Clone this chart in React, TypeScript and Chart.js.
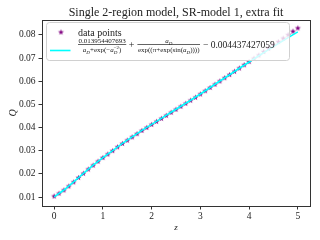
import React, { useEffect, useRef } from "react";
import { Chart, registerables } from "chart.js";

Chart.register(...registerables);

// ---------- data ----------
const zValues = [
  0.0, 0.1, 0.2, 0.3, 0.4, 0.5, 0.6, 0.7, 0.8, 0.9,
  1.0, 1.1, 1.2, 1.3, 1.4, 1.5, 1.6, 1.7, 1.8, 1.9,
  2.0, 2.1, 2.2, 2.3, 2.4, 2.5, 2.6, 2.7, 2.8, 2.9,
  3.0, 3.1, 3.2, 3.3, 3.4, 3.5, 3.6, 3.7, 3.8, 3.9,
  4.0, 4.1, 4.2, 4.3, 4.4, 4.5, 4.6, 4.7, 4.8, 4.9, 5.0,
];
const qValues = [
  0.0105, 0.0117, 0.0131, 0.0148, 0.0166, 0.0185, 0.0203, 0.0221, 0.0238, 0.0255,
  0.0271, 0.0286, 0.0301, 0.0317, 0.0332, 0.0346, 0.036, 0.0374, 0.0388, 0.0401,
  0.0414, 0.0427, 0.044, 0.0453, 0.0466, 0.0479, 0.0492, 0.0505, 0.0518, 0.0531,
  0.0545, 0.0559, 0.0573, 0.0587, 0.0601, 0.0615, 0.0629, 0.0643, 0.0657, 0.0671,
  0.0685, 0.0699, 0.0713, 0.0728, 0.0742, 0.0757, 0.0771, 0.0786, 0.0801, 0.0816, 0.083,
];
const fitZ = [
  0.0, 0.2, 0.4, 0.6, 0.8, 1.0, 1.2, 1.4, 1.6, 1.8, 2.0, 2.2, 2.4,
  2.6, 2.8, 3.0, 3.2, 3.4, 3.6, 3.8, 4.0, 4.2, 4.4, 4.6, 4.8, 5.0,
];
const fitQ = [
  0.0101, 0.0131, 0.0166, 0.0203, 0.0238, 0.0271, 0.0301, 0.0332, 0.036, 0.0388, 0.0414, 0.044, 0.0466,
  0.0492, 0.0518, 0.0545, 0.0573, 0.0601, 0.0628, 0.0656, 0.0683, 0.071, 0.0736, 0.0762, 0.0788, 0.0813,
];
const xTicks = [0, 1, 2, 3, 4, 5];
const yTicks = [0.01, 0.02, 0.03, 0.04, 0.05, 0.06, 0.07, 0.08];

const titleText = "Single 2-region model, SR-model 1, extra fit";
const xLabel = "z";
const yLabel = "Q";
const pointsLabel = "data points";
const fitNumerator = "0.013954407693";
const fitConstant = "0.004437427059";

const SERIF = '"Liberation Serif", "DejaVu Serif", serif';
const PURPLE = "#800080";
const CYAN = "#00ffff";
const SPINE = "#333333";

type Run = { t: string; size: number; it?: boolean; dy?: number; stack?: boolean };

function fontOf(r: Run) {
  return `${r.it ? "italic " : ""}${r.size}px ${SERIF}`;
}

function layoutRuns(ctx: CanvasRenderingContext2D, runs: Run[], x0: number, y: number, draw: boolean) {
  let x = x0;
  let prevX = x0;
  let lastW = 0;
  for (const r of runs) {
    ctx.font = fontOf(r);
    const m = ctx.measureText(r.t).width;
    if (r.stack) {
      if (draw) ctx.fillText(r.t, prevX, y + (r.dy || 0));
      const w = Math.max(lastW, m);
      x = prevX + w;
      lastW = w;
    } else {
      if (draw) ctx.fillText(r.t, x, y + (r.dy || 0));
      prevX = x;
      lastW = m;
      x += m;
    }
  }
  return x - x0;
}

function makeStar(r: number, color: string) {
  const size = Math.ceil(r * 2 + 2);
  const c = document.createElement("canvas");
  c.width = size;
  c.height = size;
  const g = c.getContext("2d")!;
  const cx = size / 2;
  const cy = size / 2 + 0.3;
  g.beginPath();
  for (let i = 0; i < 10; i++) {
    const rr = i % 2 === 0 ? r : r * 0.4;
    const a = -Math.PI / 2 + (i * Math.PI) / 5;
    const px = cx + rr * Math.cos(a);
    const py = cy + rr * Math.sin(a);
    if (i === 0) g.moveTo(px, py);
    else g.lineTo(px, py);
  }
  g.closePath();
  g.fillStyle = color;
  g.fill();
  return c;
}

export default function App() {
  const ref = useRef<HTMLCanvasElement>(null);

  useEffect(() => {
    const canvas = ref.current!;
    const star = makeStar(3.1, PURPLE);

    const decorPlugin = {
      id: "decor",
      afterDraw(chart: any) {
        const ctx: CanvasRenderingContext2D = chart.ctx;
        const a = chart.chartArea;
        ctx.save();
        // frame
        ctx.strokeStyle = SPINE;
        ctx.lineWidth = 1;
        ctx.strokeRect(Math.round(a.left) + 0.5, Math.round(a.top) + 0.5, Math.round(a.right - a.left), Math.round(a.bottom - a.top));
        // title
        ctx.fillStyle = "#222";
        ctx.textAlign = "center";
        ctx.textBaseline = "alphabetic";
        ctx.font = `12px ${SERIF}`;
        ctx.fillText(titleText, (a.left + a.right) / 2, 16);
        // x label
        ctx.font = `italic 9px ${SERIF}`;
        ctx.fillText(xLabel, (a.left + a.right) / 2, 230);
        // y label
        ctx.save();
        ctx.translate(16, (a.top + a.bottom) / 2);
        ctx.rotate(-Math.PI / 2);
        ctx.font = `italic 10px ${SERIF}`;
        ctx.fillText(yLabel, 0, 0);
        ctx.restore();

        // legend
        ctx.beginPath();
        (ctx as any).roundRect(46.5, 22.5, 243, 38, 3);
        ctx.fillStyle = "rgba(255,255,255,0.8)";
        ctx.fill();
        ctx.strokeStyle = "#d0d0d0";
        ctx.lineWidth = 1;
        ctx.stroke();

        ctx.drawImage(star, 61 - star.width / 2, 32 - star.height / 2);
        ctx.strokeStyle = CYAN;
        ctx.lineWidth = 1.6;
        ctx.beginPath();
        ctx.moveTo(50, 50.5);
        ctx.lineTo(70.5, 50.5);
        ctx.stroke();

        ctx.fillStyle = "#222";
        ctx.textAlign = "left";
        ctx.font = `10px ${SERIF}`;
        ctx.fillText(pointsLabel, 78, 35.5);

        const barY = 44.6;
        const numY = 43;
        const denY = 52;
        const fs = 7;
        const ss = 5;
        let x = 78;
        // fraction 1
        const num1: Run[] = [{ t: fitNumerator, size: fs }];
        const den1: Run[] = [
          { t: "a", size: fs, it: true },
          { t: "D", size: ss, it: true, dy: 1.5 },
          { t: "+exp(\u2212", size: fs },
          { t: "a", size: fs, it: true },
          { t: "D", size: ss, it: true, dy: 1.5 },
          { t: "\u22122", size: ss, dy: -3, stack: true },
          { t: ")", size: fs },
        ];
        const wn1 = layoutRuns(ctx, num1, 0, 0, false);
        const wd1 = layoutRuns(ctx, den1, 0, 0, false);
        const w1 = Math.max(wn1, wd1) + 1;
        layoutRuns(ctx, num1, x + (w1 - wn1) / 2, numY, true);
        layoutRuns(ctx, den1, x + (w1 - wd1) / 2, denY, true);
        ctx.fillRect(x, barY - 0.3, w1, 0.7);
        x += w1 + 2.5;
        ctx.font = `10px ${SERIF}`;
        ctx.fillText("+", x, 48.2);
        x += ctx.measureText("+").width + 3;
        // fraction 2
        const num2: Run[] = [
          { t: "a", size: fs, it: true },
          { t: "D", size: ss, it: true, dy: 1.5 },
        ];
        const den2: Run[] = [
          { t: "exp((\u03c0+exp(sin(", size: fs },
          { t: "a", size: fs, it: true },
          { t: "D", size: ss, it: true, dy: 1.5 },
          { t: "))))", size: fs },
        ];
        const wn2 = layoutRuns(ctx, num2, 0, 0, false);
        const wd2 = layoutRuns(ctx, den2, 0, 0, false);
        const w2 = Math.max(wn2, wd2) + 1;
        layoutRuns(ctx, num2, x + (w2 - wn2) / 2, numY, true);
        layoutRuns(ctx, den2, x + (w2 - wd2) / 2, denY, true);
        ctx.fillRect(x, barY - 0.3, w2, 0.7);
        x += w2 + 3;
        ctx.font = `9.5px ${SERIF}`;
        ctx.fillText("\u2212 " + fitConstant, x, 48.2);
        ctx.restore();
      },
    };

    const chart = new Chart(canvas, {
      type: "scatter",
      data: {
        datasets: [
          {
            type: "line",
            label: "fit",
            data: fitZ.map((z, i) => ({ x: z, y: fitQ[i] })),
            borderColor: CYAN,
            borderWidth: 1.6,
            pointRadius: 0,
            fill: false,
            tension: 0,
            order: 0,
          } as any,
          {
            label: pointsLabel,
            data: zValues.map((z, i) => ({ x: z, y: qValues[i] })),
            pointStyle: star as any,
            pointRadius: 3,
            backgroundColor: PURPLE,
            borderColor: PURPLE,
            order: 1,
          },
        ],
      },
      options: {
        animation: false,
        responsive: false,
        devicePixelRatio: 1,
        layout: { padding: { top: 20, right: 10, left: 0, bottom: 0 } },
        plugins: {
          legend: { display: false },
          title: { display: false },
          tooltip: { enabled: false },
        },
        scales: {
          x: {
            type: "linear",
            min: -0.25,
            max: 5.25,
            afterBuildTicks: (s: any) => {
              s.ticks = xTicks.map((v) => ({ value: v }));
            },
            afterFit: (s: any) => {
              s.height = 34;
            },
            ticks: {
              color: "#222",
              font: { family: SERIF, size: 9.5 },
              padding: 1,
              maxRotation: 0,
              autoSkip: false,
              callback: (v: any) => String(v),
            },
            grid: {
              drawOnChartArea: false,
              drawTicks: true,
              tickLength: 3.5,
              color: SPINE,
              lineWidth: 1,
            },
            border: { display: false },
          },
          y: {
            type: "linear",
            min: 0.0062,
            max: 0.0864,
            afterBuildTicks: (s: any) => {
              s.ticks = yTicks.map((v) => ({ value: v }));
            },
            afterFit: (s: any) => {
              s.width = 42;
            },
            ticks: {
              color: "#222",
              font: { family: SERIF, size: 9.5 },
              padding: 3,
              autoSkip: false,
              callback: (v: any) => Number(v).toFixed(2),
            },
            grid: {
              drawOnChartArea: false,
              drawTicks: true,
              tickLength: 3.5,
              color: SPINE,
              lineWidth: 1,
            },
            border: { display: false },
          },
        },
      },
      plugins: [decorPlugin],
    });

    return () => chart.destroy();
  }, []);

  return (
    <div style={{ position: "fixed", left: 0, top: 0, width: 320, height: 240, background: "#fff" }}>
      <canvas ref={ref} width={320} height={240} />
    </div>
  );
}
